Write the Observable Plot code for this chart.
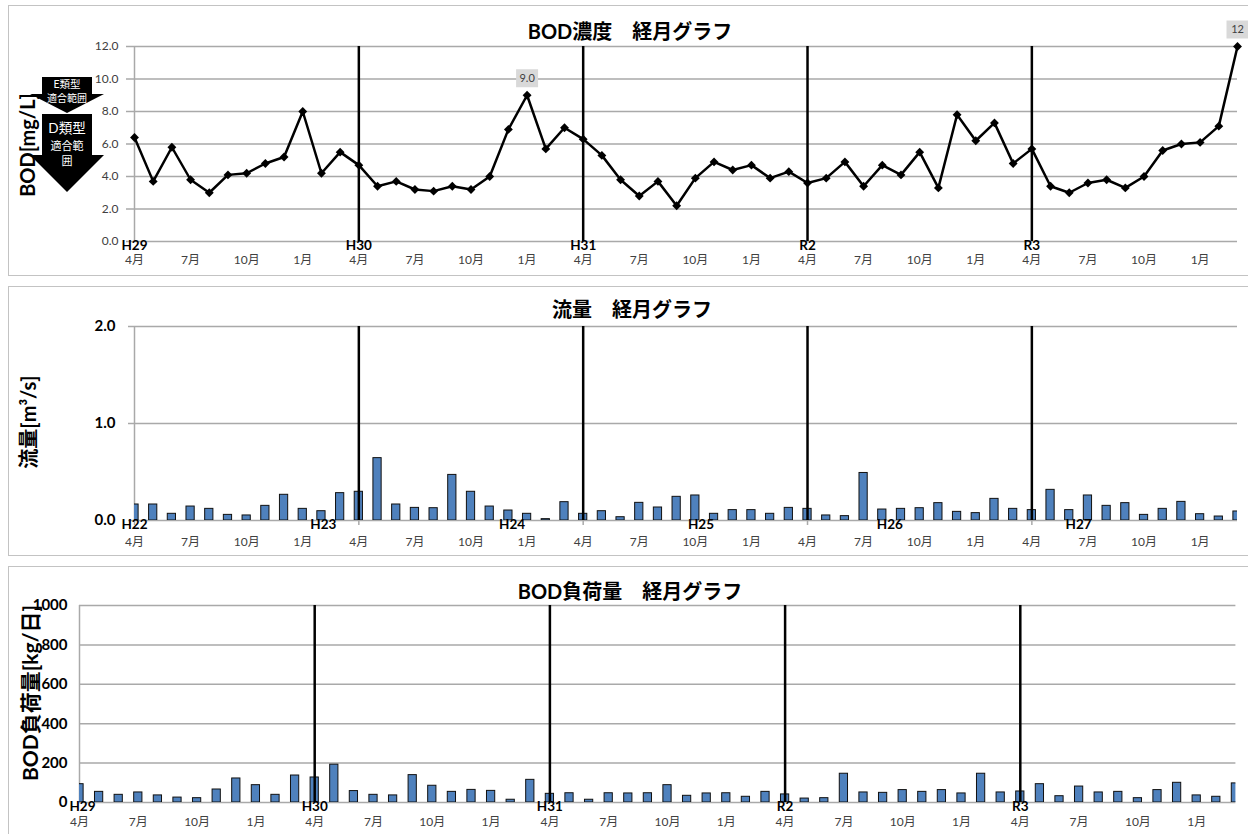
<!DOCTYPE html>
<html><head><meta charset="utf-8">
<script src="https://cdn.jsdelivr.net/npm/d3@7"></script>
<script src="https://cdn.jsdelivr.net/npm/@observablehq/plot@0.6"></script>
<style>
body{margin:0;background:#fff;}
#wrap{position:relative;width:1248px;height:834px;overflow:hidden;font-family:Lato,"Noto Sans CJK JP",sans-serif;}
.panel{position:absolute;left:8px;width:1260px;border:1.5px solid #c3c3c3;box-sizing:border-box;}
.holder{position:absolute;left:0;}
.holder svg{display:block;}
.title{position:absolute;font-weight:bold;font-size:20px;transform:translate(-50%,-50%);white-space:nowrap;color:#000;font-family:Lato,"Noto Sans CJK JP",sans-serif;}
.ylab{position:absolute;font-weight:bold;transform:translate(-50%,-50%) rotate(-90deg);white-space:nowrap;color:#000;}
</style></head>
<body><div id="wrap">
<div class="panel" style="top:5px;height:271px"></div>
<div class="panel" style="top:286px;height:270px"></div>
<div class="panel" style="top:566px;height:300px"></div>
<div class="holder" id="p1" style="top:0px"></div>
<div class="holder" id="p2" style="top:280px"></div>
<div class="holder" id="p3" style="top:556px"></div>
<svg id="arrows" style="position:absolute;left:0;top:0" width="140" height="200"></svg>
<div class="ylab" style="left:27px;top:145px;font-size:20px">BOD[mg/L]</div>
<div class="ylab" style="left:27px;top:422px;font-size:20px">流量[m³/s]</div>
<div class="ylab" style="left:29px;top:693px;font-size:21px">BOD負荷量[kg/日]</div>
<div class="title" style="left:630px;top:30px">BOD濃度　経月グラフ</div>
<div class="title" style="left:632px;top:308px">流量　経月グラフ</div>
<div class="title" style="left:630px;top:590px">BOD負荷量　経月グラフ</div>
</div>
<script>
// ---- data ----
const bodValues = [6.4,3.7,5.8,3.8,3.0,4.1,4.2,4.8,5.2,8.0,4.2,5.5,
 4.7,3.4,3.7,3.2,3.1,3.4,3.2,4.0,6.9,9.0,5.7,7.0,
 6.3,5.3,3.8,2.8,3.7,2.2,3.9,4.9,4.4,4.7,3.9,4.3,
 3.6,3.9,4.9,3.4,4.7,4.1,5.5,3.3,7.8,6.2,7.3,4.8,
 5.7,3.4,3.0,3.6,3.8,3.3,4.0,5.6,6.0,6.1,7.1,12.0];
const flowValues = [0.165,0.165,0.069,0.144,0.12,0.058,0.052,0.151,0.265,0.12,0.096,0.282,
 0.296,0.643,0.165,0.13,0.127,0.47,0.296,0.144,0.103,0.069,0.014,0.189,
 0.069,0.096,0.034,0.182,0.134,0.244,0.258,0.069,0.107,0.107,0.069,0.13,
 0.12,0.052,0.045,0.49,0.113,0.12,0.127,0.179,0.089,0.076,0.223,0.12,
 0.107,0.316,0.107,0.258,0.151,0.179,0.058,0.12,0.192,0.065,0.041,0.093];
const loadValues = [93,54,39,51,36,25,22,66,122,88,39,137,
 127,192,58,39,36,139,85,54,64,59,14,115,
 44,47,14,47,46,47,88,34,46,47,29,54,
 41,20,22,146,51,49,63,54,63,46,146,51,
 56,93,32,81,51,54,22,63,100,36,29,97];
const monthCycle = ["4月","7月","10月","1月"];
const bodEras = ["H29","H30","H31","R2","R3"];
const bodEraAt = [0,12,24,36,48];
const flowEras = ["H22","H23","H24","H25","H26","H27"];
const flowEraAt = [0,10.1,20.2,30.3,40.4,50.5];
const loadEras = ["H29","H30","H31","R2","R3"];
const loadEraAt = [0.15,12,24,36,48];
const yearLines = [12,24,36,48];
const bodTicks = [0,2,4,6,8,10,12];
const flowTicks = [0,1,2];
const loadTicks = [0,200,400,600,800,1000];
const bodLabels = [{i:21, v:9.0, t:"9.0"},{i:59, v:12.0, t:"12"}];

const toRows = vals => vals.map((v,i)=>({i, v}));
const monthRows = d3.range(0,60,3).map(i=>({i, t: monthCycle[(i/3)%4]}));
const FONT = 'Lato,"Noto Sans CJK JP",sans-serif';
const GRID = "#a9a9a9";
const boxSymbol = {draw(ctx){ ctx.rect(-11,-9,22,18); }};

function xLabels(eras, eraAt, dyEra, dyMonth){
  return [
    Plot.text(eras.map((t,k)=>({i:eraAt[k], t})), {x:"i", text:"t", frameAnchor:"bottom", dy:dyEra, fontWeight:"bold", fontSize:13.5, fill:"#000"}),
    Plot.text(monthRows, {x:"i", text:"t", frameAnchor:"bottom", dy:dyMonth, fontSize:12, fill:"#404040"})
  ];
}

// ---- panel 1: BOD concentration ----
const p1 = Plot.plot({
  width:1248, height:276, marginLeft:134, marginRight:11, marginTop:46, marginBottom:35,
  style:{background:"transparent", fontFamily:FONT, overflow:"visible"},
  x:{domain:[0,59], axis:null},
  y:{domain:[0,12], axis:null},
  marks:[
    Plot.gridY(bodTicks, {stroke:GRID, strokeOpacity:1, strokeWidth:1.5}),
    Plot.axisY({ticks:bodTicks, tickSize:8, tickFormat:()=> "", stroke:GRID, strokeWidth:1.5, label:null}),
    Plot.ruleX([0], {stroke:GRID, strokeWidth:1.5}),
    Plot.text(bodTicks, {y:d=>d, text:d=>d3.format(".1f")(d), frameAnchor:"left", textAnchor:"end", dx:-16, fontSize:12, fill:"#404040"}),
    Plot.ruleX(yearLines, {stroke:"#000", strokeWidth:2.5}),
    Plot.line(toRows(bodValues), {x:"i", y:"v", stroke:"#000", strokeWidth:2.5}),
    Plot.dot(toRows(bodValues), {x:"i", y:"v", symbol:"diamond2", r:4, fill:"#000"}),
    Plot.dot(bodLabels, {x:"i", y:"v", symbol:boxSymbol, r:3, fill:"#d9d9d9", dy:-17}),
    Plot.text(bodLabels, {x:"i", y:"v", text:"t", dy:-17, fontSize:11, fill:"#404040"}),
    ...xLabels(bodEras, bodEraAt, 8, 22)
  ]
});
document.getElementById("p1").append(p1);

// ---- panel 2: flow ----
const p2 = Plot.plot({
  width:1248, height:276, marginLeft:134, marginRight:11, marginTop:46, marginBottom:36,
  style:{background:"transparent", fontFamily:FONT, overflow:"visible"},
  x:{domain:[0,59], axis:null},
  y:{domain:[0,2], axis:null},
  marks:[
    Plot.gridY(flowTicks, {stroke:GRID, strokeOpacity:1, strokeWidth:1.5}),
    Plot.axisY({ticks:flowTicks, tickSize:6, tickFormat:()=> "", stroke:GRID, strokeWidth:1.5, label:null}),
    Plot.axisX({ticks:[0, ...yearLines], tickSize:5, tickFormat:()=> "", stroke:GRID, strokeWidth:1.5, label:null}),
    Plot.ruleX([0], {stroke:GRID, strokeWidth:1.5}),
    Plot.text(flowTicks, {y:d=>d, text:d=>d3.format(".1f")(d), frameAnchor:"left", textAnchor:"end", dx:-19, fontSize:15, fontWeight:"bold", fill:"#000"}),
    Plot.rectY(toRows(flowValues), {x1:d=>d.i-0.22, x2:d=>d.i+0.22, y:"v", fill:"#4f81bd", stroke:"#111", strokeWidth:1, clip:true}),
    Plot.ruleX(yearLines, {stroke:"#000", strokeWidth:2.5}),
    ...xLabels(flowEras, flowEraAt, 8, 25)
  ]
});
document.getElementById("p2").append(p2);

// ---- panel 3: BOD load ----
const p3 = Plot.plot({
  width:1248, height:278, marginLeft:79, marginRight:12.6, marginTop:49, marginBottom:32,
  style:{background:"transparent", fontFamily:FONT, overflow:"visible"},
  x:{domain:[0,59], axis:null},
  y:{domain:[0,1000], axis:null},
  marks:[
    Plot.gridY(loadTicks, {stroke:GRID, strokeOpacity:1, strokeWidth:1.5}),
    Plot.ruleX([0], {stroke:GRID, strokeWidth:1.5}),
    Plot.text(loadTicks, {y:d=>d, text:d=>String(d), frameAnchor:"left", textAnchor:"end", dx:-12, fontSize:15, fontWeight:"bold", fill:"#000"}),
    Plot.rectY(toRows(loadValues), {x1:d=>d.i-0.21, x2:d=>d.i+0.21, y:"v", fill:"#4f81bd", stroke:"#111", strokeWidth:1, clip:true}),
    Plot.ruleX(yearLines, {stroke:"#000", strokeWidth:2.5}),
    ...xLabels(loadEras, loadEraAt, 8, 23)
  ]
});
document.getElementById("p3").append(p3);

// ---- decorative arrows (classification ranges) ----
const a = d3.select("#arrows");
a.append("rect").attr("x",42).attr("y",77).attr("width",50).attr("height",18).attr("fill","#000");
a.append("polygon").attr("points","30,94 104,94 67,113").attr("fill","#000");
a.append("rect").attr("x",42).attr("y",114).attr("width",50).attr("height",42).attr("fill","#000");
a.append("polygon").attr("points","30,155 104,155 67,192").attr("fill","#000");
const wt = (x,y,s,t)=>a.append("text").attr("x",x).attr("y",y).attr("font-size",s).attr("fill","#fff")
  .attr("text-anchor","middle").attr("dominant-baseline","middle").attr("font-family",FONT).text(t);
wt(67,85,10.5,"E類型"); wt(67,99,10,"適合範囲");
wt(67,130,13.5,"D類型"); wt(67,147,11,"適合範"); wt(67,162,11,"囲");
</script>
</body></html>
